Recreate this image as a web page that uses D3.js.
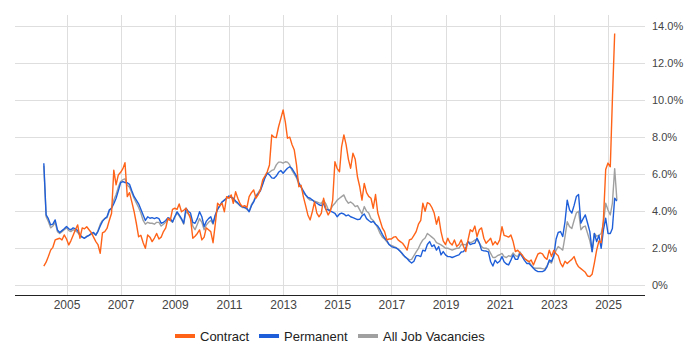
<!DOCTYPE html>
<html>
<head>
<meta charset="utf-8">
<script src="https://cdn.jsdelivr.net/npm/d3@7"></script>
<style>
  html, body { margin: 0; padding: 0; background: #fff; }
  svg { display: block; font-family: "Liberation Sans", Arial, sans-serif; }
</style>
</head>
<body>
<svg id="chart" width="700" height="350"></svg>
<script>
// ---- data (monthly, first month = March 2004) ----
const startMonth = new Date(2004, 2, 1);
const seriesNames = ["Contract", "Permanent", "All Job Vacancies"];
const xTickYears = [2005, 2007, 2009, 2011, 2013, 2015, 2017, 2019, 2021, 2023, 2025];
const yTicks = [0, 2, 4, 6, 8, 10, 12, 14];

const contract = [
  1.04, 1.25, 1.55, 1.9, 2.05, 2.45, 2.5, 2.54, 2.45, 2.72,
  2.5, 2.18, 2.4, 2.7, 3.0, 3.26, 2.54, 3.1, 3.05, 3.16, 3.0, 2.85,
  2.6, 2.36, 2.2, 1.73, 2.83, 2.9, 3.07, 3.5, 3.89, 6.22, 5.42, 5.96,
  6.1, 6.3, 6.62, 4.79, 5.0, 4.5, 4.0, 3.35, 2.62, 2.7, 2.3, 2.0,
  2.72, 2.6, 2.36, 2.55, 2.8, 2.5, 2.6, 2.9, 3.1, 3.62, 3.5, 4.1,
  4.16, 4.1, 4.39, 3.97, 4.05, 4.16, 3.9, 3.6, 2.54, 2.65, 2.8, 2.99,
  2.45, 2.6, 3.1, 3.0, 2.9, 2.3, 3.3, 4.43, 4.3, 4.43, 3.97, 4.79,
  4.7, 4.88, 4.43, 5.05, 4.7, 4.4, 4.25, 4.3, 4.2, 4.79, 5.0, 5.15,
  4.7, 4.9, 5.15, 5.69, 5.9, 6.13, 6.5, 8.12, 8.0, 7.98, 8.56, 9.0,
  9.47, 8.8, 7.94, 8.0, 7.6, 7.3, 6.5, 5.32, 5.4, 4.79, 4.3, 3.8,
  3.53, 4.0, 4.5, 3.9, 3.7, 3.9, 4.7, 4.1, 3.8, 4.0, 4.6, 6.67,
  6.3, 6.13, 7.48, 8.12, 7.6, 6.8, 6.32, 7.13, 6.8, 5.86, 5.32, 4.6,
  5.5, 5.0, 4.8, 4.7, 4.16, 4.9, 3.9, 3.5, 3.1, 2.9, 2.45, 2.5,
  2.5, 2.6, 2.63, 2.45, 2.36, 2.27, 2.1, 1.9, 2.45, 2.5, 2.7, 2.9,
  3.3, 3.5, 4.43, 4.0, 4.46, 4.4, 4.2, 3.9, 3.3, 3.7, 2.9, 2.4,
  2.2, 2.54, 2.3, 2.18, 2.45, 2.1, 2.2, 2.45, 2.1, 1.82, 2.45, 3.0,
  2.9, 3.2, 2.63, 3.0, 3.1, 2.54, 2.27, 2.4, 2.54, 2.18, 2.36, 2.2,
  2.45, 3.17, 2.7, 2.65, 2.6, 2.72, 2.36, 1.82, 1.9, 1.75, 1.63, 1.45,
  1.36, 1.27, 1.37, 1.1, 1.4, 1.69, 1.75, 1.7, 1.5, 1.4, 1.9, 1.55,
  1.9, 1.7, 1.6, 1.2, 1.0, 1.3, 1.18, 1.3, 1.4, 1.55, 1.2, 1.0,
  0.9, 0.8, 0.7, 0.5, 0.47, 0.6, 1.2, 1.9, 2.4, 2.3, 3.6, 6.25,
  6.6, 6.4, 10.0, 13.6
];

const permanent = [
  6.59, 3.8, 3.6, 3.26, 3.3, 3.53, 2.99, 2.85, 2.95, 3.05,
  3.17, 3.05, 3.0, 3.1, 3.05, 2.95, 2.72, 2.6, 2.54, 2.63, 2.7, 2.8,
  2.85, 2.72, 2.9, 3.2, 3.45, 3.6, 3.7, 4.07, 4.16, 4.4, 4.7, 5.1,
  5.54, 5.6, 5.55, 5.54, 5.45, 5.1, 4.8, 4.6, 4.4, 4.1, 3.8, 3.5,
  3.7, 3.62, 3.65, 3.6, 3.65, 3.6, 3.35, 3.4, 3.5, 3.65, 3.6, 3.42,
  3.7, 3.97, 3.8, 3.6, 3.35, 4.16, 4.0, 3.9, 3.4, 3.35, 3.6, 3.97,
  3.7, 3.17, 3.45, 3.6, 3.7, 3.35, 3.8, 4.1, 4.3, 4.5, 4.6, 4.7,
  4.82, 4.75, 4.7, 4.55, 4.45, 4.3, 4.25, 4.2, 4.15, 3.97, 4.3, 4.5,
  4.79, 4.95, 5.1, 5.45, 5.8, 6.05, 5.96, 5.8, 5.78, 5.9, 6.1, 6.2,
  6.05, 6.2, 6.32, 6.4, 6.3, 6.1, 5.9, 5.55, 5.3, 5.1, 4.88, 4.75,
  4.7, 4.6, 4.5, 4.43, 4.35, 4.3, 4.4, 4.1, 4.07, 4.0, 3.95, 3.89,
  3.7, 3.85, 3.9, 3.85, 3.75, 3.8, 3.7, 3.65, 3.6, 3.55, 3.56, 3.75,
  3.85, 3.6, 3.5, 3.4, 3.45, 3.3, 3.2, 3.0, 2.75, 2.55, 2.41, 2.2,
  2.09, 2.05, 2.02, 1.95, 1.82, 1.7, 1.55, 1.45, 1.3, 1.2, 1.3, 1.6,
  1.6, 1.55, 1.9, 1.85, 2.2, 2.36, 2.09, 2.18, 1.9, 2.09, 1.64, 1.82,
  1.64, 1.55, 1.55, 1.5, 1.55, 1.6, 1.64, 1.8, 1.82, 2.0, 2.36, 2.2,
  2.25, 2.27, 2.55, 2.3, 1.9, 1.86, 1.85, 1.8, 1.27, 1.04, 1.36, 1.2,
  1.3, 1.55, 1.27, 1.15, 1.1, 1.36, 1.64, 1.4, 1.4, 1.72, 1.55, 1.35,
  1.18, 1.18, 1.05, 0.92, 0.8, 0.74, 0.74, 0.74, 0.8, 1.0, 1.37, 1.28,
  1.6, 2.5, 2.85, 2.9, 2.63, 3.43, 4.6, 4.07, 3.9, 4.3, 4.79, 4.9,
  3.35, 3.6, 3.8, 3.35, 2.9, 1.82, 2.8, 2.36, 2.7, 2.0, 3.0, 3.62,
  2.8, 2.8, 3.07, 4.7, 4.55
];

const allJobs = [
  6.45, 3.7, 3.45, 3.1, 3.2, 3.4, 2.9, 2.8, 2.9, 3.0,
  3.1, 2.95, 2.9, 3.0, 2.95, 2.85, 2.7, 2.6, 2.55, 2.65, 2.7, 2.75,
  2.8, 2.7, 2.95, 3.3, 3.5, 3.6, 3.65, 4.0, 4.2, 4.6, 4.9, 5.3,
  5.6, 5.7, 5.75, 5.4, 5.3, 5.0, 4.7, 4.45, 4.2, 3.9, 3.5, 3.3,
  3.4, 3.35, 3.35, 3.3, 3.4, 3.4, 3.2, 3.3, 3.4, 3.55, 3.5, 3.4,
  3.7, 3.9, 3.75, 3.55, 3.3, 4.0, 3.85, 3.75, 3.2, 3.0, 3.3, 3.6,
  3.4, 3.0, 3.25, 3.4, 3.5, 3.3, 3.75, 4.1, 4.3, 4.5, 4.6, 4.7,
  4.8, 4.75, 4.65, 4.5, 4.4, 4.3, 4.2, 4.2, 4.1, 4.0, 4.35, 4.55,
  4.85, 5.0, 5.2, 5.5, 5.85, 6.05, 6.1, 6.2, 6.25, 6.5, 6.65, 6.65,
  6.6, 6.67, 6.65, 6.5, 6.2, 6.0, 5.8, 5.45, 5.3, 5.0, 4.88, 4.7,
  4.6, 4.6, 4.55, 4.5, 4.45, 4.43, 4.6, 4.4, 4.1, 4.07, 4.3, 4.43,
  4.6, 4.7, 4.79, 4.88, 4.6, 4.43, 4.5, 4.4, 4.25, 4.3, 4.07, 3.85,
  4.25, 4.0, 3.9, 3.6, 3.5, 3.3, 3.1, 2.8, 2.6, 2.5, 2.35, 2.2,
  2.15, 2.1, 2.05, 1.95, 1.85, 1.65, 1.55, 1.45, 1.37, 1.4, 1.6, 1.8,
  2.0, 2.27, 2.45, 2.55, 2.8, 2.7, 2.6, 2.5, 2.3, 2.25, 2.18, 2.1,
  2.0, 2.0, 1.95, 1.9, 1.95, 2.0, 2.0, 2.2, 2.2, 2.18, 2.36, 2.3,
  2.35, 2.45, 2.45, 2.27, 2.09, 2.0, 2.0, 1.95, 1.72, 1.5, 1.5, 1.6,
  1.65, 1.72, 1.55, 1.5, 1.6, 1.55, 1.75, 1.6, 1.55, 1.8, 1.6, 1.45,
  1.35, 1.27, 1.1, 0.95, 0.92, 0.92, 0.92, 0.9, 0.87, 1.05, 1.28, 1.2,
  1.6, 1.9, 2.09, 2.0, 1.9, 2.63, 3.43, 3.17, 3.07, 3.5, 3.9, 4.0,
  3.0, 3.15, 3.2, 2.8, 2.4, 1.82, 2.8, 2.65, 2.7, 2.8, 3.35, 4.43,
  4.07, 3.8, 4.43, 6.3, 4.6
];

const colors = { "Contract": "#ff6318", "Permanent": "#1e5fd9", "All Job Vacancies": "#a0a0a0" };

// ---- chart ----
const svg = d3.select("#chart");
const left = 15, right = 645, axisY = 295;

const x = d3.scaleTime()
  .domain([new Date(2005, 0, 1), new Date(2025, 0, 1)])
  .range([66.5, 608]);
const y = d3.scaleLinear().domain([0, 14]).range([285.3, 26]);

const toSeries = vals => vals.map((v, i) => ({ date: d3.timeMonth.offset(startMonth, i), value: v }));
const data = {
  "Contract": toSeries(contract),
  "Permanent": toSeries(permanent),
  "All Job Vacancies": toSeries(allJobs)
};

// horizontal gridlines
svg.append("g")
  .selectAll("line")
  .data(yTicks)
  .join("line")
  .attr("x1", left).attr("x2", right)
  .attr("y1", d => Math.round(y(d)) + 0.5).attr("y2", d => Math.round(y(d)) + 0.5)
  .attr("stroke", "#dedede").attr("stroke-width", 1);

// vertical gridlines
const xTickDates = xTickYears.map(yr => new Date(yr, 0, 1));
svg.append("g")
  .selectAll("line")
  .data(xTickDates)
  .join("line")
  .attr("x1", d => Math.round(x(d)) + 0.5).attr("x2", d => Math.round(x(d)) + 0.5)
  .attr("y1", 15).attr("y2", axisY)
  .attr("stroke", "#dedede").attr("stroke-width", 1);

// x axis labels
const xAxis = d3.axisBottom(x).tickValues(xTickDates).tickSize(0).tickPadding(5)
  .tickFormat(d3.timeFormat("%Y"));
const gx = svg.append("g").attr("transform", `translate(0,${axisY})`).call(xAxis);
gx.select(".domain").remove();
gx.selectAll("text").attr("font-size", 12).attr("fill", "#444")
  .attr("font-family", "Liberation Sans, Arial, sans-serif");

// axis line
svg.append("line")
  .attr("x1", left).attr("x2", right)
  .attr("y1", axisY + 0.5).attr("y2", axisY + 0.5)
  .attr("stroke", "#222").attr("stroke-width", 1);

// y axis labels (right)
const yAxis = d3.axisRight(y).tickValues(yTicks).tickSize(0).tickPadding(0)
  .tickFormat(d => d === 0 ? "0%" : d3.format(".1f")(d) + "%");
const gy = svg.append("g").attr("transform", `translate(652,0)`).call(yAxis);
gy.select(".domain").remove();
gy.selectAll("text").attr("font-size", 11).attr("fill", "#444")
  .attr("font-family", "Liberation Sans, Arial, sans-serif");

// lines
const line = d3.line().x(d => x(d.date)).y(d => y(d.value));
["All Job Vacancies", "Permanent", "Contract"].forEach(name => {
  svg.append("path")
    .datum(data[name])
    .attr("fill", "none")
    .attr("stroke", colors[name])
    .attr("stroke-width", 1.4)
    .attr("stroke-linejoin", "round")
    .attr("d", line);
});

// legend
const legendItems = [
  { name: "Contract", x: 175 },
  { name: "Permanent", x: 259 },
  { name: "All Job Vacancies", x: 358 }
];
const lg = svg.append("g").attr("transform", "translate(0,336)");
legendItems.forEach(it => {
  lg.append("rect").attr("x", it.x).attr("y", -2).attr("width", 20).attr("height", 4)
    .attr("fill", colors[it.name]);
  lg.append("text").attr("x", it.x + 25).attr("y", 0).attr("dy", "0.35em")
    .attr("font-size", 13).attr("fill", "#222").text(it.name);
});
</script>
</body>
</html>
